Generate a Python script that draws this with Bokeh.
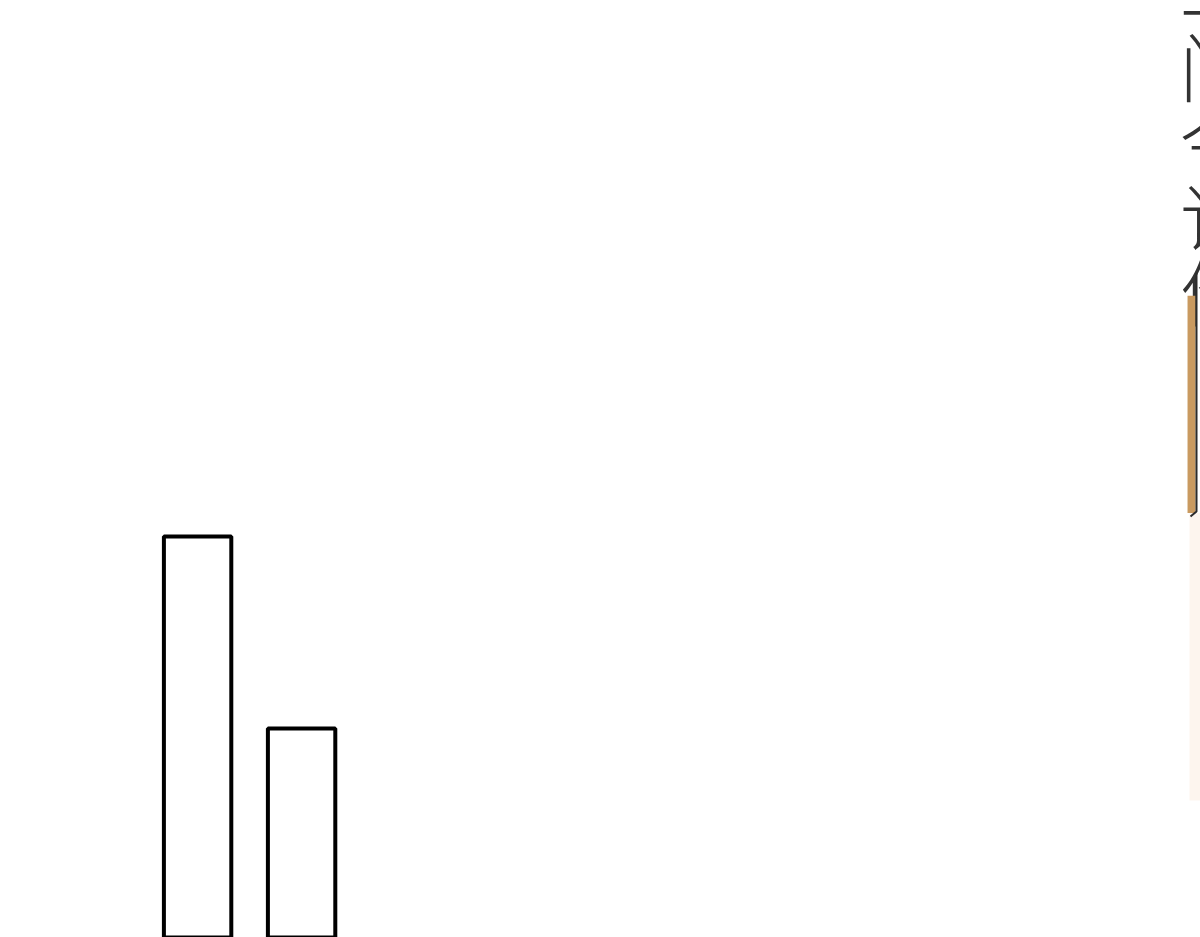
from bokeh.plotting import figure
from bokeh.models import Range1d
from bokeh.core.properties import value
from bokeh.embed import file_html
from bokeh.resources import INLINE

# Values (the zero baseline sits below the visible frame)
bar_pos = [0, 1]
bar_vals = [62.8, 42.3]

# fragment of a filled bar at the right edge
edge_pos = [9.557]
edge_top = [88.5]
edge_bottom = [65.3]

# characters of the clipped vertical title on the right edge
side_chars = ["二", "门", "今", "订", "价"]

W, H = 1200, 937
STEP = 104.0          # px per category slot
YPX = H / 100.0       # px per value unit
x0 = -197.1 / STEP
y_top = 120.0

def px_x(px):
    return x0 + px / STEP

def px_y(py):
    return y_top - py / YPX

p = figure(width=W, height=H, x_range=Range1d(x0, x0 + W / STEP), y_range=Range1d(y_top - 100, y_top),
           output_backend="svg", toolbar_location=None, min_border=0)
p.axis.visible = False
p.grid.visible = False
p.outline_line_color = None
p.background_fill_color = "white"
p.border_fill_color = "white"

# main bars, outline only
p.vbar(x=bar_pos, top=bar_vals, bottom=0, width=67.4 / STEP,
       fill_color="white", line_color="black", line_width=4)

# clipped vertical title
centers = [-16 + 75 * i for i in range(len(side_chars))]
centers[1:] = [c + 4 for c in centers[1:]]
p.text(x=[px_x(1179)] * len(side_chars), y=[px_y(c) for c in centers], text=side_chars,
       text_font=value("Noto Sans CJK SC Light"), text_font_size="74px", text_color="#333333",
       text_align="left", text_baseline="middle")

# pale wash below the edge bar
p.quad(left=[px_x(1189)], right=[px_x(1200)], top=edge_bottom, bottom=[px_y(800)],
       fill_color="#fdf3ea", line_color=None, fill_alpha=0.8)

# tan edge bar with dark right stroke
p.vbar(x=edge_pos, top=edge_top, bottom=edge_bottom, width=8 / STEP,
       fill_color="#c99a60", line_color=None)
p.line(x=[px_x(1196), px_x(1196), px_x(1190)], y=[px_y(272), px_y(511), px_y(516)],
       line_color="#2b2b2b", line_width=2)

open("out.html", "w").write(file_html(p, INLINE))
